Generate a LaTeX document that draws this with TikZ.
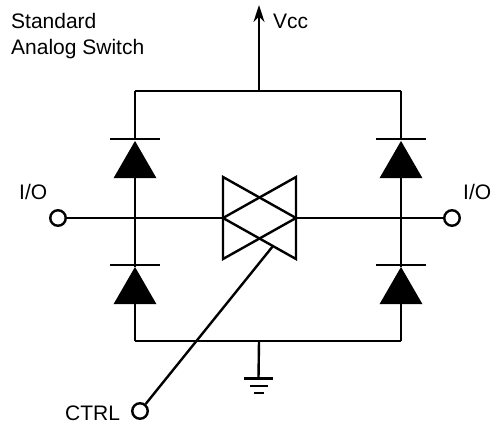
\documentclass[tikz,border=0pt]{standalone}
\usepackage{xcolor}
\usepackage{fontspec}
\setmainfont{Liberation Sans}
\usetikzlibrary{shapes.geometric,arrows.meta,positioning}

\begin{document}
\begin{tikzpicture}[
    x=1pt, y=-1pt,
    wire/.style={draw, line width=2.4pt},
    label/.style={inner sep=0pt, align=left, font=\fontsize{21}{25.5}\selectfont},
    terminal/.style={circle, draw, line width=2.4pt, fill=white, minimum size=15.5pt, inner sep=0pt},
    diode/.style={regular polygon, regular polygon sides=3, fill=black, minimum size=49.7pt, inner sep=0pt, outer sep=0pt},
    bar/.style={rectangle, fill=black, minimum height=2.4pt, inner sep=0pt, outer sep=0pt}
]
\useasboundingbox (0,0) rectangle (490,426);
\coordinate (tl) at (135,91);
\coordinate (tr) at (401,91);
\coordinate (bl) at (135,341);
\coordinate (br) at (401,341);
\coordinate (vcc) at (259,5);
\coordinate (top) at (259,91);
\coordinate (bot) at (259,341);
\coordinate (sl) at (223,218);
\coordinate (sr) at (296,218);
\coordinate (slt) at (223,177);
\coordinate (slb) at (223,259);
\coordinate (srt) at (296,177);
\coordinate (srb) at (296,259);
\coordinate (tap) at (273,246);

\node[diode] (d1) at (135,165.8) {};
\node[bar, minimum width=50pt, above=1pt of d1.corner 1] (b1) {};
\node[diode] (d2) at (135,291.8) {};
\node[bar, minimum width=50pt, above=1pt of d2.corner 1] (b2) {};
\node[diode] (d3) at (401,165.8) {};
\node[bar, minimum width=50pt, above=1pt of d3.corner 1] (b3) {};
\node[diode] (d4) at (401,291.8) {};
\node[bar, minimum width=50pt, above=1pt of d4.corner 1] (b4) {};

\node[terminal] (iol) at (58,218) {};
\node[terminal] (ior) at (452,218) {};
\node[terminal] (ctrl) at (140,411) {};

\node[bar, minimum width=29pt] (g1) at (258.5,378.5) {};
\node[bar, minimum width=18pt] (g2) at (258.5,386) {};
\node[bar, minimum width=10pt] (g3) at (258.5,393) {};

\draw[wire] (tl) -- (tr);
\draw[wire] (bl) -- (br);
\draw[wire] (tl) -- (b1.center);
\draw[wire] (d1.south) -- (d2.corner 1);
\draw[wire] (d2.south) -- (bl);
\draw[wire] (tr) -- (b3.center);
\draw[wire] (d3.south) -- (d4.corner 1);
\draw[wire] (d4.south) -- (br);
\draw[wire] (iol) -- (sl);
\draw[wire] (sr) -- (ior);
\draw[wire, -{Stealth[length=17pt,width=11pt]}] (top) -- (vcc);
\draw[wire] (bot) -- (g1.center);
\draw[wire, line join=miter] (slt) -- (sr) -- (slb) -- cycle;
\draw[wire, line join=miter] (srt) -- (sl) -- (srb) -- cycle;
\draw[wire] (ctrl) -- (tap);

\node[label, anchor=west] (title) at (11,36) {Standard\\Analog Switch};
\node[label, anchor=west] (vcclabel) at (273,21) {Vcc};
\node[label, anchor=west] (iollabel) at (19,192) {I/O};
\node[label, anchor=west] (iorlabel) at (463,192) {I/O};
\node[label, anchor=west] (ctrllabel) at (65,413) {CTRL};
\end{tikzpicture}
\end{document}
